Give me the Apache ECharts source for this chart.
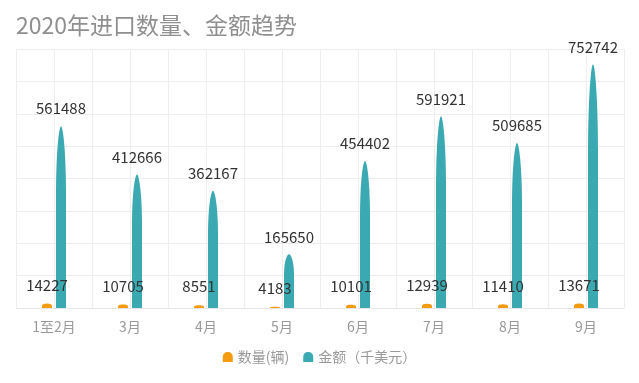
<!DOCTYPE html>
<html><head><meta charset="utf-8">
<script src="https://cdn.jsdelivr.net/npm/echarts@6/dist/echarts.min.js"></script>
<style>html,body{margin:0;padding:0;background:#fff}#c{width:639px;height:383px}</style>
</head><body><div id="c"></div>
<script>
var categories = ['1至2月','3月','4月','5月','6月','7月','8月','9月'];
var quantity = [14227,10705,8551,4183,10101,12939,11410,13671];
var amount = [561488,412666,362167,165650,454402,591921,509685,752742];
var seriesNames = ['数量(辆)','金额（千美元）'];

var bulletPath = 'path://M0,100 L0,38 C0,14 3,0 5,0 C7,0 10,14 10,38 L10,100 Z';
var domePath = 'path://M0,10 L0,5 C0,2 2,0 5,0 C8,0 10,2 10,5 L10,10 Z';
var cjk = '"Microsoft YaHei","Noto Sans CJK SC",sans-serif';
var chart = echarts.init(document.getElementById('c'));
var half = [];
for (var i = 0; i < categories.length * 2; i++) half.push('');
chart.setOption({
  animation: false,
  textStyle: {fontFamily: cjk},
  title: {text: '2020年进口数量、金额趋势', left: 11, top: 9,
    textStyle: {color: '#8f8f8f', fontSize: 23, fontWeight: 'normal', fontFamily: cjk}},
  legend: {bottom: 14, left: 'center', itemWidth: 10, itemHeight: 11, itemGap: 14,
    textStyle: {color: '#999', fontSize: 14},
    data: [{name: seriesNames[0], icon: domePath}, {name: seriesNames[1], icon: domePath}]},
  grid: {left: 16, right: 15, top: 49, bottom: 75},
  xAxis: [{type: 'category', data: categories,
    axisLine: {lineStyle: {color: '#e6e6e6'}}, axisTick: {show: false},
    axisLabel: {color: '#999', fontSize: 14, margin: 12},
    splitLine: {show: false}},
    {type: 'category', data: half, show: true, position: 'bottom',
      axisLine: {show: false}, axisTick: {show: false}, axisLabel: {show: false},
      splitLine: {show: true, interval: 0, lineStyle: {color: '#eeeeee'}}}],
  yAxis: {type: 'value', min: 0, max: 800000, interval: 100000,
    axisLabel: {show: false}, axisLine: {show: false}, axisTick: {show: false},
    splitLine: {lineStyle: {color: '#eeeeee'}}},
  series: [
    {name: seriesNames[0], type: 'pictorialBar', data: quantity, symbol: domePath,
      barWidth: 10, barGap: '40%', symbolSize: [10, '100%'],
      itemStyle: {color: '#f39c12'},
      label: {show: true, position: 'top', distance: 11, color: '#333', fontSize: 15}},
    {name: seriesNames[1], type: 'pictorialBar', data: amount, symbol: bulletPath,
      barWidth: 10, barGap: '40%', symbolSize: [10, '100%'],
      itemStyle: {color: '#3aa9b2'},
      label: {show: true, position: 'top', distance: 10, color: '#333', fontSize: 15}}
  ]
});
</script></body></html>
